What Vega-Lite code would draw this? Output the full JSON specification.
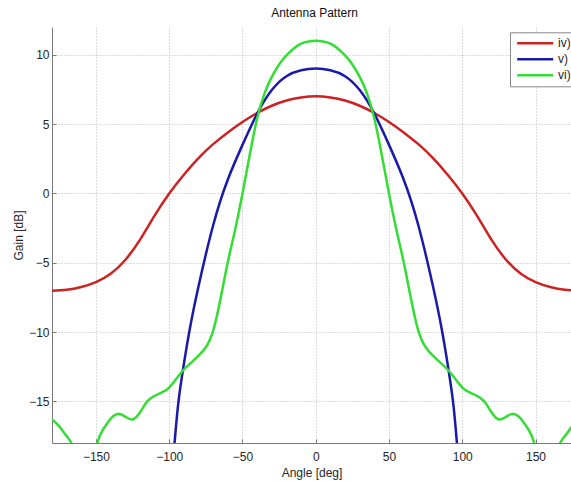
{
  "$schema": "https://vega.github.io/schema/vega-lite/v6.json",
  "autosize": {"type": "none"},
  "width": 519,
  "height": 416,
  "padding": {"left": 52, "top": 27, "right": 0, "bottom": 38},
  "background": "white",
  "config": {
    "view": {"stroke": null},
    "font": "Liberation Sans",
    "axis": {
      "labelFont": "Liberation Sans",
      "titleFont": "Liberation Sans",
      "labelFontSize": 12,
      "titleFontSize": 12,
      "titleFontWeight": "normal",
      "labelColor": "#262626",
      "titleColor": "#262626",
      "domainColor": "#7a7a7a",
      "tickColor": "#7a7a7a",
      "tickSize": -4,
      "gridColor": "#b8b8b8",
      "gridDash": [1, 2],
      "gridWidth": 1
    },
    "legend": {
      "labelFont": "Liberation Sans",
      "labelFontSize": 12,
      "labelColor": "#262626"
    },
    "title": {"font": "Liberation Sans", "fontSize": 12, "fontWeight": "normal", "color": "#111111"}
  },
  "title": {"text": "Antenna Pattern", "anchor": "middle", "dx": 3, "offset": 7},
  "data": {
    "values": [
      {"series": "iv)", "angle": -180, "gain": -7.02},
      {"series": "iv)", "angle": -170, "gain": -6.95},
      {"series": "iv)", "angle": -160, "gain": -6.75},
      {"series": "iv)", "angle": -150, "gain": -6.4},
      {"series": "iv)", "angle": -140, "gain": -5.8},
      {"series": "iv)", "angle": -130, "gain": -4.8},
      {"series": "iv)", "angle": -120, "gain": -3.35},
      {"series": "iv)", "angle": -110, "gain": -1.6},
      {"series": "iv)", "angle": -100, "gain": 0.0},
      {"series": "iv)", "angle": -90, "gain": 1.35},
      {"series": "iv)", "angle": -80, "gain": 2.55},
      {"series": "iv)", "angle": -70, "gain": 3.55},
      {"series": "iv)", "angle": -60, "gain": 4.4},
      {"series": "iv)", "angle": -50, "gain": 5.15},
      {"series": "iv)", "angle": -40, "gain": 5.8},
      {"series": "iv)", "angle": -30, "gain": 6.32},
      {"series": "iv)", "angle": -20, "gain": 6.7},
      {"series": "iv)", "angle": -10, "gain": 6.92},
      {"series": "iv)", "angle": 0, "gain": 7.0},
      {"series": "iv)", "angle": 10, "gain": 6.92},
      {"series": "iv)", "angle": 20, "gain": 6.7},
      {"series": "iv)", "angle": 30, "gain": 6.32},
      {"series": "iv)", "angle": 40, "gain": 5.8},
      {"series": "iv)", "angle": 50, "gain": 5.15},
      {"series": "iv)", "angle": 60, "gain": 4.4},
      {"series": "iv)", "angle": 70, "gain": 3.55},
      {"series": "iv)", "angle": 80, "gain": 2.55},
      {"series": "iv)", "angle": 90, "gain": 1.35},
      {"series": "iv)", "angle": 100, "gain": 0.0},
      {"series": "iv)", "angle": 110, "gain": -1.6},
      {"series": "iv)", "angle": 120, "gain": -3.35},
      {"series": "iv)", "angle": 130, "gain": -4.8},
      {"series": "iv)", "angle": 140, "gain": -5.8},
      {"series": "iv)", "angle": 150, "gain": -6.4},
      {"series": "iv)", "angle": 160, "gain": -6.75},
      {"series": "iv)", "angle": 170, "gain": -6.95},
      {"series": "iv)", "angle": 180, "gain": -7.02},

      {"series": "v)", "angle": -100, "gain": -22.0},
      {"series": "v)", "angle": -97, "gain": -18.8},
      {"series": "v)", "angle": -94, "gain": -15.3},
      {"series": "v)", "angle": -90, "gain": -12.3},
      {"series": "v)", "angle": -86, "gain": -9.8},
      {"series": "v)", "angle": -80, "gain": -6.7},
      {"series": "v)", "angle": -70, "gain": -2.3},
      {"series": "v)", "angle": -60, "gain": 1.0},
      {"series": "v)", "angle": -50, "gain": 3.5},
      {"series": "v)", "angle": -40, "gain": 5.75},
      {"series": "v)", "angle": -30, "gain": 7.45},
      {"series": "v)", "angle": -20, "gain": 8.45},
      {"series": "v)", "angle": -10, "gain": 8.88},
      {"series": "v)", "angle": 0, "gain": 9.0},
      {"series": "v)", "angle": 10, "gain": 8.88},
      {"series": "v)", "angle": 20, "gain": 8.45},
      {"series": "v)", "angle": 30, "gain": 7.45},
      {"series": "v)", "angle": 40, "gain": 5.75},
      {"series": "v)", "angle": 50, "gain": 3.5},
      {"series": "v)", "angle": 60, "gain": 1.0},
      {"series": "v)", "angle": 70, "gain": -2.3},
      {"series": "v)", "angle": 80, "gain": -6.7},
      {"series": "v)", "angle": 86, "gain": -9.8},
      {"series": "v)", "angle": 90, "gain": -12.3},
      {"series": "v)", "angle": 94, "gain": -15.3},
      {"series": "v)", "angle": 97, "gain": -18.8},
      {"series": "v)", "angle": 100, "gain": -22.0},

      {"series": "vi)", "angle": -180, "gain": -16.3},
      {"series": "vi)", "angle": -175, "gain": -16.8},
      {"series": "vi)", "angle": -170, "gain": -17.5},
      {"series": "vi)", "angle": -165, "gain": -18.6},
      {"series": "vi)", "angle": -160, "gain": -21.5},
      {"series": "vi)", "angle": -155, "gain": -21.5},
      {"series": "vi)", "angle": -150, "gain": -18.4},
      {"series": "vi)", "angle": -145, "gain": -17.0},
      {"series": "vi)", "angle": -140, "gain": -16.25},
      {"series": "vi)", "angle": -135, "gain": -15.9},
      {"series": "vi)", "angle": -130, "gain": -16.1},
      {"series": "vi)", "angle": -125, "gain": -16.3},
      {"series": "vi)", "angle": -120, "gain": -15.8},
      {"series": "vi)", "angle": -115, "gain": -15.0},
      {"series": "vi)", "angle": -110, "gain": -14.6},
      {"series": "vi)", "angle": -105, "gain": -14.35},
      {"series": "vi)", "angle": -100, "gain": -14.0},
      {"series": "vi)", "angle": -95, "gain": -13.35},
      {"series": "vi)", "angle": -90, "gain": -12.7},
      {"series": "vi)", "angle": -85, "gain": -12.2},
      {"series": "vi)", "angle": -80, "gain": -11.7},
      {"series": "vi)", "angle": -75, "gain": -11.1},
      {"series": "vi)", "angle": -70, "gain": -9.9},
      {"series": "vi)", "angle": -65, "gain": -7.6},
      {"series": "vi)", "angle": -60, "gain": -4.95},
      {"series": "vi)", "angle": -55, "gain": -2.6},
      {"series": "vi)", "angle": -50, "gain": 0.0},
      {"series": "vi)", "angle": -45, "gain": 2.8},
      {"series": "vi)", "angle": -40, "gain": 5.4},
      {"series": "vi)", "angle": -35, "gain": 7.2},
      {"series": "vi)", "angle": -30, "gain": 8.4},
      {"series": "vi)", "angle": -25, "gain": 9.3},
      {"series": "vi)", "angle": -20, "gain": 9.95},
      {"series": "vi)", "angle": -15, "gain": 10.45},
      {"series": "vi)", "angle": -10, "gain": 10.8},
      {"series": "vi)", "angle": -5, "gain": 10.95},
      {"series": "vi)", "angle": 0, "gain": 11.0},
      {"series": "vi)", "angle": 5, "gain": 10.95},
      {"series": "vi)", "angle": 10, "gain": 10.8},
      {"series": "vi)", "angle": 15, "gain": 10.45},
      {"series": "vi)", "angle": 20, "gain": 9.95},
      {"series": "vi)", "angle": 25, "gain": 9.3},
      {"series": "vi)", "angle": 30, "gain": 8.4},
      {"series": "vi)", "angle": 35, "gain": 7.2},
      {"series": "vi)", "angle": 40, "gain": 5.4},
      {"series": "vi)", "angle": 45, "gain": 2.8},
      {"series": "vi)", "angle": 50, "gain": 0.0},
      {"series": "vi)", "angle": 55, "gain": -2.6},
      {"series": "vi)", "angle": 60, "gain": -4.95},
      {"series": "vi)", "angle": 65, "gain": -7.6},
      {"series": "vi)", "angle": 70, "gain": -9.9},
      {"series": "vi)", "angle": 75, "gain": -11.1},
      {"series": "vi)", "angle": 80, "gain": -11.7},
      {"series": "vi)", "angle": 85, "gain": -12.2},
      {"series": "vi)", "angle": 90, "gain": -12.7},
      {"series": "vi)", "angle": 95, "gain": -13.35},
      {"series": "vi)", "angle": 100, "gain": -14.0},
      {"series": "vi)", "angle": 105, "gain": -14.35},
      {"series": "vi)", "angle": 110, "gain": -14.6},
      {"series": "vi)", "angle": 115, "gain": -15.0},
      {"series": "vi)", "angle": 120, "gain": -15.8},
      {"series": "vi)", "angle": 125, "gain": -16.3},
      {"series": "vi)", "angle": 130, "gain": -16.1},
      {"series": "vi)", "angle": 135, "gain": -15.9},
      {"series": "vi)", "angle": 140, "gain": -16.25},
      {"series": "vi)", "angle": 145, "gain": -17.0},
      {"series": "vi)", "angle": 150, "gain": -18.4},
      {"series": "vi)", "angle": 155, "gain": -21.5},
      {"series": "vi)", "angle": 160, "gain": -21.5},
      {"series": "vi)", "angle": 165, "gain": -18.6},
      {"series": "vi)", "angle": 170, "gain": -17.5},
      {"series": "vi)", "angle": 175, "gain": -16.8},
      {"series": "vi)", "angle": 180, "gain": -16.3}
    ]
  },
  "mark": {"type": "line", "clip": true, "strokeWidth": 2.5, "interpolate": "natural"},
  "encoding": {
    "x": {
      "field": "angle",
      "type": "quantitative",
      "scale": {"domain": [-180, 174.2], "nice": false, "zero": false},
      "axis": {"values": [-150, -100, -50, 0, 50, 100, 150], "title": "Angle [deg]", "labelPadding": 12, "titlePadding": 5, "labelFlush": false}
    },
    "y": {
      "field": "gain",
      "type": "quantitative",
      "scale": {"domain": [-18, 12], "nice": false, "zero": false},
      "axis": {"values": [-15, -10, -5, 0, 5, 10], "title": "Gain [dB]", "labelPadding": 7, "titlePadding": 3, "labelFlush": false}
    },
    "color": {
      "field": "series",
      "type": "nominal",
      "scale": {"domain": ["iv)", "v)", "vi)"], "range": ["#cc2222", "#1a1aaa", "#33dd33"]},
      "legend": {
        "title": null,
        "orient": "none",
        "legendX": 458,
        "legendY": 5.3,
        "direction": "vertical",
        "symbolType": "M-0.85,0H7.15",
        "symbolSize": 81,
        "symbolStrokeWidth": 2.5,
        "padding": 5,
        "rowPadding": 4,
        "strokeColor": "#888888",
        "fillColor": "white",
        "labelOffset": 31
      }
    },
    "order": {"field": "angle", "type": "quantitative"}
  }
}
